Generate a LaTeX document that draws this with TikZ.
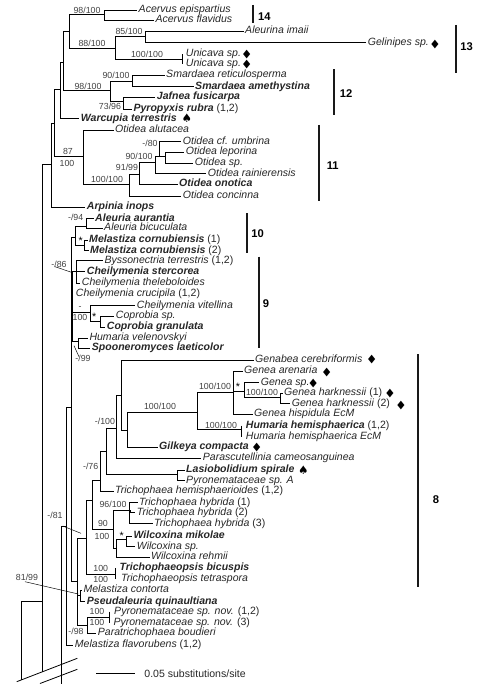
\documentclass[tikz,border=0pt]{standalone}
\usepackage{fontspec}
\setmainfont{Liberation Sans}
\newfontfamily\symfont{DejaVu Sans}
\usepackage{tikz}
\newcommand{\nr}[1]{\textup{\mdseries #1}}
\newcommand{\dmd}{\scalebox{.82}[1]{◆}}
\definecolor{inkgray}{gray}{0.15}
\definecolor{numgray}{gray}{0.25}
\tikzset{
	taxon/.style={anchor=west, inner xsep=1pt, inner ysep=0pt, text height=5.6pt, text depth=1.7pt, text=inkgray, font=\fontsize{7.9}{9}\selectfont\itshape},
	support/.style={inner sep=0pt, text=numgray, font=\fontsize{6.6}{8}\selectfont},
	starmark/.style={inner sep=0pt, font=\fontsize{8}{8}\selectfont},
	groupbar/.style={line width=1.5pt, draw=black!90},
	grouplabel/.style={inner sep=0pt, font=\fontsize{8.4}{10}\selectfont\bfseries},
	mark sym/.style={inner sep=0pt, font=\fontsize{8.6}{9}\selectfont\symfont},
	spade sym/.style={inner sep=0pt, font=\fontsize{8.8}{10}\selectfont\symfont}
}
\begin{document}
\begin{tikzpicture}[x=0.75pt, y=-0.75pt, line width=0.6pt]
	\useasboundingbox (0,0) rectangle (500,684);
	% taxa
	\node[taxon] (tEpis) at (137,10) {Acervus epispartius};
	\node[taxon] (tFlav) at (153.8,20) {Acervus flavidus};
	\node[taxon] (tImai) at (243.5,31) {Aleurina imaii};
	\node[taxon] (tGeli) at (366.2,42.8) {Gelinipes sp.};
	\node[taxon] (tUni1) at (184.2,54.3) {Unicava sp.};
	\node[taxon] (tUni2) at (184.2,64.3) {Unicava sp.};
	\node[taxon] (tReti) at (164.5,75) {Smardaea reticulosperma};
	\node[taxon] (tAmet) at (193.5,86.5) {\textbf{Smardaea amethystina}};
	\node[taxon] (tJafn) at (155.2,97) {\textbf{Jafnea fusicarpa}};
	\node[taxon] (tPyro) at (131.8,109) {\textbf{Pyropyxis rubra} \nr{(1,2)}};
	\node[taxon] (tWarc) at (79.2,118.5) {\textbf{Warcupia terrestris}};
	\node[taxon] (tAlut) at (113.5,130) {Otidea alutacea};
	\node[taxon] (tUmbr) at (181.2,141.5) {Otidea cf. umbrina};
	\node[taxon] (tLepo) at (184.2,152) {Otidea leporina};
	\node[taxon] (tOsp) at (193.2,163) {Otidea sp.};
	\node[taxon] (tRain) at (206.2,173.5) {Otidea rainierensis};
	\node[taxon] (tOnot) at (177.5,184) {\textbf{Otidea onotica}};
	\node[taxon] (tConc) at (181.2,196) {Otidea concinna};
	\node[taxon] (tArpi) at (85.2,207) {\textbf{Arpinia inops}};
	\node[taxon] (tAura) at (93.5,218.5) {\textbf{Aleuria aurantia}};
	\node[taxon] (tBicu) at (102.5,228) {Aleuria bicuculata};
	\node[taxon] (tCor1) at (87.5,240.3) {\textbf{Melastiza cornubiensis} \nr{(1)}};
	\node[taxon] (tCor2) at (88.5,250.5) {\textbf{Melastiza cornubiensis} \nr{(2)}};
	\node[taxon] (tByss) at (102.8,260.8) {Byssonectria terrestris \nr{(1,2)}};
	\node[taxon] (tSter) at (85.2,271.8) {\textbf{Cheilymenia stercorea}};
	\node[taxon] (tThel) at (80.2,283) {Cheilymenia theleboloides};
	\node[taxon] (tCruc) at (74.2,293.7) {Cheilymenia crucipila \nr{(1,2)}};
	\node[taxon] (tVite) at (135.2,305.5) {Cheilymenia vitellina};
	\node[taxon] (tCsp) at (114.2,316) {Coprobia sp.};
	\node[taxon] (tGran) at (105.2,327) {\textbf{Coprobia granulata}};
	\node[taxon] (tVele) at (87.8,338.3) {Humaria velenovskyi};
	\node[taxon] (tSpoo) at (90.2,348.3) {\textbf{Spooneromyces laeticolor}};
	\node[taxon] (tGena) at (253.5,360) {Genabea cerebriformis};
	\node[taxon] (tAren) at (242.5,371) {Genea arenaria};
	\node[taxon] (tGsp) at (259.2,382.5) {Genea sp.};
	\node[taxon] (tHar1) at (282.5,393) {Genea harknessii \nr{(1)}};
	\node[taxon] (tHar2) at (290.2,403.5) {Genea harknessii \nr{(2)}};
	\node[taxon] (tHisp) at (252.5,414.3) {Genea hispidula EcM};
	\node[taxon] (tHem1) at (244.2,425.7) {\textbf{Humaria hemisphaerica} \nr{(1,2)}};
	\node[taxon] (tHem2) at (244.2,437) {Humaria hemisphaerica EcM};
	\node[taxon] (tGilk) at (157.5,447) {\textbf{Gilkeya compacta}};
	\node[taxon] (tPara) at (201.2,458) {Parascutellinia cameosanguinea};
	\node[taxon] (tLasi) at (184.5,470) {\textbf{Lasiobolidium spirale}};
	\node[taxon] (tPyrA) at (184.5,480.7) {Pyronemataceae sp. A};
	\node[taxon] (tHemi) at (113.5,491.2) {Trichophaea hemisphaerioides \nr{(1,2)}};
	\node[taxon] (tHyb1) at (137.5,502.7) {Trichophaea hybrida \nr{(1)}};
	\node[taxon] (tHyb2) at (135.2,512.7) {Trichophaea hybrida \nr{(2)}};
	\node[taxon] (tHyb3) at (152.5,523.5) {Trichophaea hybrida \nr{(3)}};
	\node[taxon] (tMiko) at (131.8,536) {\textbf{Wilcoxina mikolae}};
	\node[taxon] (tWsp) at (135.2,546.5) {Wilcoxina sp.};
	\node[taxon] (tRehm) at (149.5,557) {Wilcoxina rehmii};
	\node[taxon] (tBicp) at (117.8,568) {\textbf{Trichophaeopsis bicuspis}};
	\node[taxon] (tTetr) at (119.5,579.3) {Trichophaeopsis tetraspora};
	\node[taxon] (tCont) at (81.8,590) {Melastiza contorta};
	\node[taxon] (tPseu) at (85.2,601.5) {\textbf{Pseudaleuria quinaultiana}};
	\node[taxon] (tNov1) at (112.5,611.7) {Pyronemataceae sp. nov. \nr{(1,2)}};
	\node[taxon] (tNov2) at (111.8,622.7) {Pyronemataceae sp. nov. \nr{(3)}};
	\node[taxon] (tBoud) at (96.2,633.2) {Paratrichophaea boudieri};
	\node[taxon] (tFlar) at (73.2,645) {Melastiza flavorubens \nr{(1,2)}};
	% branching points
	\foreach \nm/\xx/\yy in {
		brkA/21/680, nA/42.3/601, brkB/42.3/671.8, nB/51.7/164, nC/54.3/123, nD/60.7/89, nE/63.3/62,
		nF/69.3/31.7, nAc/104.3/14, nG/115.3/48, nAl/145.3/36.7, nUn/182.7/59.3, n12/110.3/90.7,
		nSm/132.3/81.7, nJa/123.3/101, nOt/83.3/156.7, nO1/129.3/184, nO2/139.3/174, nO3/155.7/162,
		nO4/159.3/156, nO5/165.7/156, brkC/61.7/684, nH/66.7/526.7, nJ/71.7/407.7, nAle/75.7/237,
		nAu/86/226.7, nMe/84.3/245, nCh/76.7/271.7, nVi/90/312.3, nCo/100/321, nHu/78.3/341.7,
		nL/77.3/581.7, nM/86.7/538, nN/92.3/500, nO/100.7/480, nQ/106/451.7, nR/116/428, nS/121/395,
		nT/127.3/430, nU/197.3/412.3, nX/233.3/392.7, nY/244/391.7, nZ/280/397.7, nHh/241.7/429.3,
		nLa/177.3/474, nW/113.3/529.3, nWa/129.3/510, nWb/116.7/548.3, nWc/126.7/539.3,
		nTb/115.3/574.3, nMc/80/595, nP/87.3/625, nPy/109.3/617.7, nThick/72.5/407.7, nThin/130/512,
		brk1a/16.7/681.7, brk1b/77.3/658.3, brk2a/40/683.5, brk2b/77.3/669.3,
		scaleA/96/673.3, scaleB/135/673.3, ptA/55/266.7, ptB/72.7/272.7, ptC/74/345.7, ptD/79/356.7,
		ptE/62.7/526, ptF/81/533.3, ptG/25/581.7, ptH/78.3/594}
		\coordinate (\nm) at (\xx,\yy);
	% branches
	\foreach \pa/\kid in {
		brkA/nA, nA/nB, nB/nC, nB/tArpi, nC/nD, nC/nOt, nD/nE, nD/tWarc, nE/nF, nE/n12, nF/nAc, nF/nG,
		nAc/tEpis, nAc/tFlav, nG/nAl, nG/nUn, nAl/tImai, nAl/tGeli, n12/nSm, n12/nJa, nSm/tReti, nSm/tAmet,
		nJa/tJafn, nJa/tPyro, nOt/tAlut, nOt/nO1, nO1/nO2, nO1/tConc, nO2/nO3, nO2/tOnot, nO3/nO4, nO3/tRain,
		nO4/tUmbr, nO4/nO5, nO5/tLepo, nO5/tOsp, brkC/nH, nH/nJ, nH/tFlar, nJ/nAle, nJ/nCh, nJ/nVi, nJ/nHu, nJ/nL,
		nAle/nAu, nAle/nMe, nAu/tAura, nAu/tBicu, nMe/tCor1, nMe/tCor2, nCh/tByss, nCh/tSter, nCh/tThel,
		nVi/tVite, nVi/nCo, nCo/tCsp, nCo/tGran, nHu/tVele, nHu/tSpoo, nL/nM, nL/nMc, nL/nP, nM/nN, nM/nTb,
		nN/nO, nN/nW, nO/nQ, nO/tHemi, nQ/nR, nQ/nLa, nR/nS, nR/tPara, nS/tGena, nS/nT, nT/nU, nT/tGilk,
		nU/nX, nU/nHh, nX/tAren, nX/nY, nX/tHisp, nY/tGsp, nY/nZ, nZ/tHar1, nZ/tHar2, nLa/tLasi, nLa/tPyrA,
		nW/nWa, nW/nWb, nWa/tHyb1, nWa/tHyb3, nThin/tHyb2, nWb/nWc, nWb/tRehm, nWc/tMiko, nWc/tWsp,
		nMc/tCont, nMc/tPseu, nP/nPy, nP/tBoud}
		\draw (\pa) |- (\kid);
	\draw (nA) -- (brkB);
	\draw (nThin |- nWa) -- (nThin);
	\draw (nUn |- tUni1) -- (nUn |- tUni2);
	\draw (nHh |- tHem1) -- (nHh |- tHem2);
	\draw (nTb |- tBicp) -- (nTb |- tTetr);
	\draw (nPy |- tNov1) -- (nPy |- tNov2);
	\draw[line width=0.9pt] (nThick |- nCh) -- (nThick |- nHu);
	\draw (brk1a) -- (brk1b);
	\draw (brk2a) -- (brk2b);
	\draw (scaleA) -- (scaleB);
	% pointers to small nodes
	\foreach \pa/\kid in {ptA/ptB, ptC/ptD, ptE/ptF, ptG/ptH}
		\draw[line width=0.35pt] (\pa) -- (\kid);
	% support values
	\node[support] (s01) at (87,10) {98/100};
	\node[support] (s02) at (129,31) {85/100};
	\node[support] (s03) at (92,43) {88/100};
	\node[support] (s04) at (147,54) {100/100};
	\node[support] (s05) at (116,75) {90/100};
	\node[support] (s06) at (88,86) {98/100};
	\node[support] (s07) at (110,106.7) {73/96};
	\node[support] (s08) at (150,143.7) {-/80};
	\node[support] (s09) at (68,151) {87};
	\node[support] (s10) at (67,163) {100};
	\node[support] (s11) at (139,156) {90/100};
	\node[support] (s12) at (127,167) {91/99};
	\node[support] (s13) at (107,179) {100/100};
	\node[support] (s14) at (75.7,217) {-/94};
	\node[starmark] (s15) at (80.7,241) {*};
	\node[support] (s16) at (59,264) {-/86};
	\node[support] (s17) at (80,307.7) {-};
	\node[support] (s18) at (80,317.7) {100};
	\node[starmark] (s19) at (94.3,316.7) {*};
	\node[support] (s20) at (83,358.5) {-/99};
	\node[support] (s21) at (215,386.7) {100/100};
	\node[starmark] (s22) at (238,386.7) {*};
	\node[support] (s23) at (160,406.7) {100/100};
	\node[support] (s24) at (221,425) {100/100};
	\node[support] (s25) at (262,392.7) {100/100};
	\node[support] (s26) at (105,421.7) {-/100};
	\node[support] (s27) at (90.7,466) {-/76};
	\node[support] (s28) at (113,504.7) {96/100};
	\node[support] (s29) at (103,523.3) {90};
	\node[support] (s30) at (102,536.7) {100};
	\node[starmark] (s31) at (121.7,536) {*};
	\node[support] (s32) at (100.7,568.7) {100};
	\node[support] (s33) at (100.7,579.7) {100};
	\node[support] (s34) at (55,515) {-/81};
	\node[support] (s35) at (27,577) {81/99};
	\node[support] (s36) at (97,611.3) {100};
	\node[support] (s37) at (97,622) {100};
	\node[support] (s38) at (76,631) {-/98};
	% life style marks
	\foreach \nm/\xx/\yy in {uA/246.7/55, uB/246.7/65, gel/435/45, gen/371.7/360, are/326.7/372.7, gsp/313.3/384, hrA/390/394, hrB/401/405.3, gil/256.7/448}
		\node[mark sym] (d\nm) at (\xx,\yy) {\dmd};
	\node[spade sym] (sWarc) at (187,118.5) {♠};
	\node[spade sym] (sLasi) at (303.3,470) {♠};
	% groups
	\foreach \id/\xx/\ya/\yb/\lx/\ly in {14/252.7/5/23/264.3/16.7, 13/456/25/72.7/466.7/46.7, 12/334/69.3/115/346/93.3, 11/319/125/201/332.7/165.7, 10/247/213/253.3/257.7/233.3, 9/259/256.7/348.3/266/303.3, 8/417.7/354.3/587/436/500} {
		\coordinate (bar\id a) at (\xx,\ya);
		\coordinate (bar\id b) at (\xx,\yb);
		\draw[groupbar] (bar\id a) -- (bar\id b);
		\node[grouplabel] (lab\id) at (\lx,\ly) {\id};
	}
	\node[anchor=west, inner sep=0pt, text=inkgray, font=\fontsize{7.9}{9}\selectfont] (scaleT) at (144,674) {0.05 substitutions/site};
\end{tikzpicture}
\end{document}
